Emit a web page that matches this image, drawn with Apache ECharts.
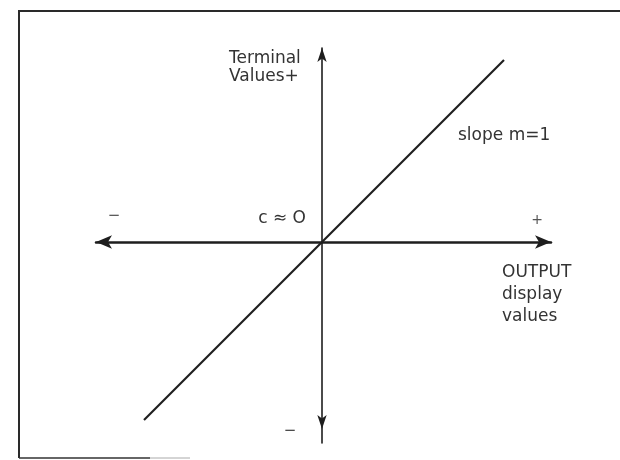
<!DOCTYPE html>
<html>
<head>
<meta charset="utf-8">
<script src="https://cdn.jsdelivr.net/npm/echarts@6/dist/echarts.min.js"></script>
<style>
html,body{margin:0;padding:0;background:#fff;}
#chart{width:620px;height:460px;}
</style>
</head>
<body>
<div id="chart"></div>
<script>
// Data: straight line through origin, slope m = 1, intercept c = 0
const outputValues = [-8.9, 9.1];          // x (OUTPUT display values)
const terminalValues = [-8.9, 9.1];        // y (Terminal values) = 1 * x + 0
const xRange = [-11.3, 11.45];
const yRange = [-10.05, 9.7];
const labels = {
  yName: 'Terminal\nValues+',
  xName: 'OUTPUT\ndisplay\nvalues',
  slope: 'slope m=1',
  intercept: 'c \u2248 O',
  plus: '+',
  minus: '\u2212'
};

const chart = echarts.init(document.getElementById('chart'));
const ink = '#1e1e1e';
const font = '"DejaVu Sans", "Liberation Sans", Arial, sans-serif';

function txt(text, x, y, size, align, color, lineHeight) {
  return { type: 'text', x: x, y: y,
    style: { text: text, font: size + 'px ' + font, fill: color || '#333333',
      align: align || 'left', verticalAlign: 'middle', lineHeight: lineHeight || size + 2 } };
}

chart.setOption({
  backgroundColor: '#ffffff',
  animation: false,
  grid: { left: 96, right: 69, top: 48, bottom: 17 },
  xAxis: {
    type: 'value', min: xRange[0], max: xRange[1],
    axisLine: { onZero: true, symbol: ['arrow', 'arrow'], symbolSize: [10, 16],
      lineStyle: { color: ink, width: 2.5 } },
    axisTick: { show: false }, axisLabel: { show: false }, splitLine: { show: false }
  },
  yAxis: {
    type: 'value', min: yRange[0], max: yRange[1],
    axisLine: { onZero: true, symbol: ['arrow', 'arrow'], symbolSize: [7, 14], symbolOffset: [14, 0],
      lineStyle: { color: ink, width: 1.6 } },
    axisTick: { show: false }, axisLabel: { show: false }, splitLine: { show: false }
  },
  series: [{
    type: 'line',
    data: outputValues.map((x, i) => [x, terminalValues[i]]),
    symbol: 'none',
    lineStyle: { color: ink, width: 2.2 }
  }],
  graphic: [
    { type: 'polyline', shape: { points: [[19, 458], [19, 11], [620, 11]] },
      style: { stroke: '#2a2a2a', lineWidth: 2, fill: null } },
    { type: 'line', shape: { x1: 19, y1: 458, x2: 150, y2: 458 },
      style: { stroke: '#333', lineWidth: 1.5 } },
    { type: 'line', shape: { x1: 150, y1: 458, x2: 190, y2: 458 },
      style: { stroke: '#aaa', lineWidth: 1 } },
    txt(labels.yName, 229, 68, 17, 'left', null, 18),
    txt(labels.slope, 458, 136, 17, 'left'),
    txt(labels.intercept, 306, 219, 17, 'right'),
    txt(labels.plus, 537, 220, 14, 'center', '#555'),
    txt(labels.minus, 114, 216, 15, 'center', '#555'),
    txt(labels.minus, 290, 431, 15, 'center', '#444'),
    txt(labels.xName, 502, 295, 17, 'left', null, 22)
  ]
});
</script>
</body>
</html>
